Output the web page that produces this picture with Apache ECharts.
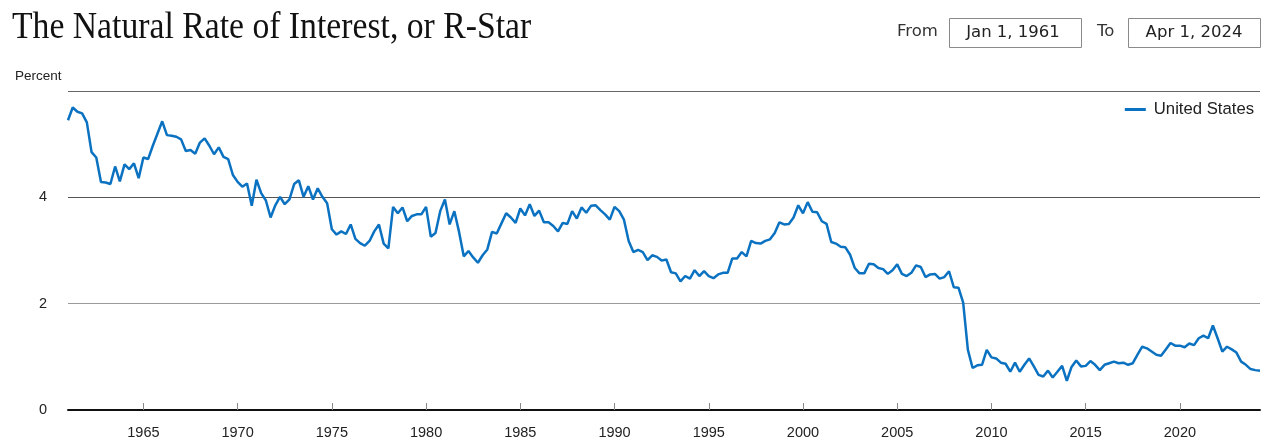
<!DOCTYPE html>
<html>
<head>
<meta charset="utf-8">
<script src="https://cdn.jsdelivr.net/npm/echarts@6/dist/echarts.min.js"></script>
<style>
  html, body { margin: 0; padding: 0; background: #fff; }
  #chart { width: 1280px; height: 445px; }
</style>
</head>
<body>
<div id="chart"></div>
<script>
const titleText = 'The Natural Rate of Interest, or R-Star';
const seriesName = 'United States';
const fromDate = 'Jan 1, 1961';
const toDate = 'Apr 1, 2024';
const startYear = 1961;
// quarterly values, 1961Q1 .. 2024Q2
const rStar = [
  5.45, 5.69, 5.61, 5.58,  5.41, 4.85, 4.75, 4.29,  4.28, 4.25, 4.58, 4.30,  4.62, 4.53, 4.64, 4.36,
  4.75, 4.72, 4.97, 5.20,  5.43, 5.17, 5.16, 5.14,  5.09, 4.87, 4.89, 4.82,  5.03, 5.11, 4.97, 4.81,
  4.94, 4.76, 4.72, 4.42,  4.29, 4.20, 4.26, 3.84,  4.33, 4.08, 3.94, 3.62,  3.85, 4.01, 3.87, 3.96,
  4.25, 4.32, 4.01, 4.21,  3.96, 4.17, 4.01, 3.89,  3.40, 3.30, 3.36, 3.31,  3.49, 3.22, 3.14, 3.09,
  3.18, 3.36, 3.49, 3.13,  3.04, 3.82, 3.70, 3.81,  3.55, 3.65, 3.68, 3.68,  3.82, 3.26, 3.33, 3.74,
  3.96, 3.49, 3.74, 3.35,  2.89, 2.99, 2.87, 2.77,  2.91, 3.02, 3.35, 3.32,  3.51, 3.70, 3.62, 3.52,
  3.79, 3.66, 3.87, 3.65,  3.75, 3.53, 3.53, 3.46,  3.36, 3.52, 3.50, 3.74,  3.60, 3.81, 3.71, 3.84,
  3.85, 3.76, 3.68, 3.58,  3.82, 3.74, 3.58, 3.18,  2.97, 3.01, 2.97, 2.82,  2.91, 2.88, 2.81, 2.83,
  2.59, 2.57, 2.42, 2.52,  2.47, 2.63, 2.52, 2.61,  2.52, 2.48, 2.55, 2.58,  2.58, 2.85, 2.85, 2.97,
  2.89, 3.18, 3.14, 3.13,  3.18, 3.21, 3.33, 3.53,  3.49, 3.50, 3.62, 3.85,  3.70, 3.91, 3.73, 3.72,
  3.55, 3.50, 3.16, 3.13,  3.07, 3.06, 2.92, 2.67,  2.57, 2.57, 2.75, 2.74,  2.67, 2.65, 2.56, 2.63,
  2.74, 2.56, 2.52, 2.58,  2.72, 2.69, 2.50, 2.55,  2.56, 2.47, 2.50, 2.61,  2.31, 2.30, 2.02, 1.13,
  0.79, 0.84, 0.85, 1.13,  0.99, 0.97, 0.89, 0.87,  0.72, 0.89, 0.72, 0.85,  0.97, 0.82, 0.66, 0.63,
  0.74, 0.61, 0.72, 0.83,  0.55, 0.81, 0.93, 0.82,  0.83, 0.92, 0.85, 0.75,  0.85, 0.88, 0.91, 0.88,
  0.89, 0.85, 0.88, 1.04,  1.19, 1.16, 1.10, 1.04,  1.02, 1.14, 1.26, 1.21,  1.21, 1.18, 1.25, 1.22,
  1.35, 1.40, 1.35, 1.59,  1.35, 1.10, 1.19, 1.14,  1.08, 0.91, 0.85, 0.77,  0.75, 0.74
];
const tickYears = ['1965','1970','1975','1980','1985','1990','1995','2000','2005','2010','2015','2020'];
const yTicks = [0, 2, 4];

const categories = rStar.map((_, i) => (startYear + Math.floor(i / 4)) + '-Q' + (i % 4 + 1));
const isTick = (idx, val) => val.slice(5) === 'Q1' && tickYears.indexOf(val.slice(0, 4)) >= 0;

const chart = echarts.init(document.getElementById('chart'), null, { renderer: 'canvas' });
const sans = '"Liberation Sans", Arial, sans-serif';
const ctl = '"DejaVu Sans", Verdana, sans-serif';
chart.setOption({
  animation: false,
  backgroundColor: '#ffffff',
  grid: { left: 68, right: 20, top: 91, bottom: 35, containLabel: false },
  legend: {
    data: [seriesName],
    right: 21, top: 96,
    icon: 'rect', itemWidth: 21, itemHeight: 3, itemGap: 10,
    textStyle: { fontFamily: sans, fontSize: 16.7, color: '#222', padding: [0, 0, 0, 3] }
  },
  xAxis: {
    type: 'category',
    data: categories,
    boundaryGap: false,
    axisLine: { lineStyle: { color: '#111', width: 2 } },
    axisTick: { inside: true, length: 7, interval: isTick, lineStyle: { color: '#888', width: 1 } },
    axisLabel: { interval: isTick, formatter: v => v.slice(0, 4), fontFamily: sans, fontSize: 14.5, color: '#222', margin: 15 },
    splitLine: { show: false }
  },
  yAxis: {
    type: 'value',
    min: 0, max: 6, interval: 2,
    axisLine: { show: false },
    axisTick: { show: false },
    axisLabel: { formatter: v => (yTicks.indexOf(v) >= 0 ? String(v) : ''), fontFamily: sans, fontSize: 14.5, color: '#222', margin: 21, padding: [6, 0, 0, 0] },
    splitLine: { lineStyle: { color: ['#555', '#9a9a9a', '#555', '#666'], width: 1 } }
  },
  series: [{
    name: seriesName,
    type: 'line',
    data: rStar,
    showSymbol: false,
    symbol: 'none',
    lineStyle: { color: '#0b72c1', width: 2.5 },
    itemStyle: { color: '#0b72c1' }
  }],
  graphic: [
    { type: 'text', x: 12, y: 10, scaleY: 1.1, style: { text: titleText, fontFamily: '"Liberation Serif", "Times New Roman", serif', fontSize: 33.7, fill: '#111' } },
    { type: 'text', left: 15, top: 69, style: { text: 'Percent', fontFamily: sans, fontSize: 13.5, fill: '#222' } },
    { type: 'text', x: 897, y: 32, style: { text: 'From', fontFamily: ctl, fontSize: 16.5, fill: '#333', verticalAlign: 'middle' } },
    { type: 'rect', shape: { x: 949.5, y: 18.5, width: 132, height: 29 }, style: { fill: '#fff', stroke: '#8a8a8a', lineWidth: 1 } },
    { type: 'text', x: 1013, y: 33, style: { text: fromDate, fontFamily: ctl, fontSize: 16.5, fill: '#222', align: 'center', verticalAlign: 'middle' } },
    { type: 'text', x: 1097, y: 32, style: { text: 'To', fontFamily: ctl, fontSize: 16.5, fill: '#333', verticalAlign: 'middle' } },
    { type: 'rect', shape: { x: 1128.5, y: 18.5, width: 132, height: 29 }, style: { fill: '#fff', stroke: '#8a8a8a', lineWidth: 1 } },
    { type: 'text', x: 1194, y: 33, style: { text: toDate, fontFamily: ctl, fontSize: 16.5, fill: '#222', align: 'center', verticalAlign: 'middle' } }
  ]
});
</script>
</body>
</html>
